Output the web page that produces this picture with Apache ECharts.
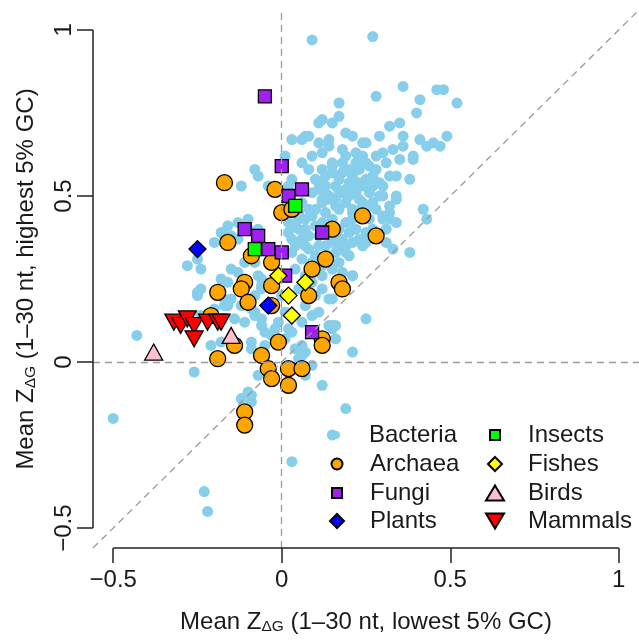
<!DOCTYPE html>
<html>
<head>
<meta charset="utf-8">
<script src="https://cdn.jsdelivr.net/npm/echarts@6/dist/echarts.min.js"></script>
<style>
html,body{margin:0;padding:0;background:#fff;}
#c{width:639px;height:640px;}
</style>
</head>
<body>
<div id="c"></div>
<script>
const xTicks = [-0.5, 0, 0.5, 1];
const yTicks = [-0.5, 0, 0.5, 1];
const axisRange = [-0.56, 1.06];

const bacteria = [
[0.09,0.97],[0.27,0.98],[0.36,0.83],[0.28,0.80],[0.46,0.82],[0.48,0.82],[0.41,0.79],[0.52,0.78],
[0.17,0.78],[0.40,0.75],[0.17,0.74],[0.12,0.73],[0.15,0.72],[0.11,0.72],[0.32,0.71],[0.35,0.72],
[0.19,0.69],[0.21,0.68],[0.29,0.68],[0.36,0.68],[0.49,0.68],[0.41,0.67],[0.43,0.65],[0.45,0.66],
[0.47,0.65],[0.11,0.66],[0.14,0.65],[0.24,0.66],[0.25,0.66],[0.36,0.65],[0.18,0.64],[0.22,0.63],
[0.24,0.62],[0.30,0.63],[0.25,0.60],[0.39,0.62],[0.39,0.61],[0.12,0.63],[0.15,0.60],[0.18,0.60],
[0.12,0.58],[0.15,0.57],[0.15,0.59],[0.18,0.57],[0.21,0.56],[0.23,0.54],[0.27,0.56],[0.32,0.56],
[0.34,0.56],[0.38,0.55],[0.29,0.54],[0.30,0.53],[0.11,0.54],[0.13,0.53],[0.16,0.53],[0.19,0.52],
[0.22,0.52],[0.24,0.53],[0.12,0.49],[0.14,0.49],[0.30,0.50],[0.34,0.49],[0.42,0.46],[0.43,0.43],
[0.21,0.46],[0.24,0.47],[0.27,0.47],[0.32,0.47],[0.30,0.44],[0.32,0.43],[0.34,0.42],[0.31,0.40],
[0.21,0.43],[0.22,0.40],[0.31,0.36],[0.33,0.34],[0.38,0.33],[0.20,0.39],[0.21,0.36],[0.24,0.35],
[0.17,0.35],[0.20,0.32],[0.21,0.26],[0.14,0.19],[0.25,0.13],[0.08,0.68],[0.03,0.67],[0.06,0.67],
[0.07,0.68],[0.01,0.62],[0.06,0.60],[0.08,0.58],[-0.08,0.58],[-0.07,0.56],[-0.12,0.53],[0.02,0.53],
[-0.04,0.53],[0.10,0.55],[0.03,0.55],[-0.16,0.41],[-0.13,0.42],[-0.10,0.43],[-0.10,0.40],[-0.07,0.40],
[-0.17,0.38],[-0.13,0.37],[-0.20,0.36],[-0.28,0.29],[-0.25,0.31],[-0.15,0.28],[-0.11,0.30],[-0.16,0.24],
[-0.24,0.22],[-0.25,0.20],[-0.07,0.26],[-0.06,0.23],[-0.15,0.19],[-0.09,0.16],[-0.20,0.16],[-0.24,0.14],
[0.02,0.39],[0.05,0.40],[0.03,0.37],[-0.18,0.39],[-0.15,0.38],[-0.24,0.28],[-0.18,0.25],[-0.13,0.27],
[-0.08,0.30],[-0.06,0.25],[-0.06,0.22],[-0.25,0.21],[-0.17,0.19],[-0.08,0.20],[-0.17,0.17],[-0.08,0.15],
[-0.14,0.13],[-0.06,0.13],[0.02,0.42],[0.04,0.41],[0.07,0.40],[0.04,0.35],[0.03,0.33],[0.06,0.31],
[0.04,0.28],[0.08,0.34],[0.09,0.51],[0.14,0.50],[0.18,0.51],[0.22,0.51],[0.29,0.50],[0.34,0.50],
[0.30,0.43],[0.32,0.45],[0.28,0.46],[0.21,0.45],[0.19,0.42],[0.21,0.40],[0.23,0.37],[0.25,0.36],
[0.19,0.35],[0.19,0.33],[0.07,0.43],[0.10,0.41],[0.08,0.38],[0.07,0.35],[0.11,0.35],[0.10,0.32],
[0.15,0.36],[0.14,0.32],[0.15,0.28],[0.12,0.26],[0.12,0.22],[0.15,0.19],[0.21,0.26],[0.06,0.12],
[0.09,0.14],[0.14,0.11],[0.06,0.48],[0.12,0.48],[0.16,0.47],[0.24,0.48],[0.27,0.48],[-0.43,0.08],
[-0.26,-0.03],[-0.50,-0.17],[-0.21,0.05],[-0.18,0.06],[-0.11,0.12],[-0.08,0.14],[-0.06,0.11],[-0.05,0.09],
[-0.03,0.08],[-0.09,0.06],[-0.09,0.04],[-0.05,0.05],[-0.02,0.08],[-0.02,0.10],[0.01,0.07],[0.03,0.09],
[0.04,0.04],[0.06,0.05],[-0.07,-0.04],[-0.10,-0.09],[-0.09,-0.10],[-0.09,-0.12],[-0.12,-0.11],[-0.16,0.17],
[-0.12,0.17],[0.15,0.11],[0.16,0.11],[0.15,0.10],[0.16,0.07],[0.21,0.03],[0.09,-0.01],[0.07,-0.04],
[0.07,0.03],[0.06,0.02],[0.05,0.01],[0.12,-0.07],[0.19,-0.14],[0.15,-0.22],[0.03,-0.30],[-0.23,-0.39],
[-0.22,-0.45],
[0.17,0.55],[0.20,0.54],[0.25,0.55],[0.13,0.51],[0.16,0.49],[0.19,0.48],[0.23,0.49],[0.26,0.51],
[0.10,0.46],[0.13,0.45],[0.15,0.43],[0.17,0.46],[0.23,0.44],[0.26,0.43],[0.27,0.40],[0.25,0.39],
[0.12,0.42],[0.14,0.39],[0.17,0.40],[0.18,0.37],[0.09,0.30],[0.12,0.29],[0.17,0.30],[0.18,0.27],
[0.07,0.26],[0.09,0.24],[0.05,0.22],[0.10,0.20],[0.07,0.17],[0.11,0.15],[0.01,0.15],[0.00,0.20],
[-0.01,0.12],[0.02,0.10],[0.11,0.52],[0.08,0.46],[0.05,0.43],[0.06,0.37],[0.26,0.59],[0.28,0.62],
[0.20,0.58],[0.22,0.60],[0.31,0.60],[0.33,0.64],[0.35,0.61],
[0.13,0.56],[0.17,0.51],[0.20,0.50],[0.09,0.44],[0.11,0.38],[0.16,0.38],[0.13,0.35],[0.16,0.33],
[0.05,0.45],[0.27,0.53],[0.23,0.58],[0.28,0.58],[0.19,0.62],[0.14,0.67],[0.09,0.62]
];

const archaea = [
[-0.17,0.54],[-0.02,0.52],[0.00,0.45],[0.03,0.46],[-0.16,0.36],[-0.09,0.32],[-0.03,0.30],[0.09,0.28],
[-0.11,0.24],[-0.12,0.22],[-0.03,0.23],[0.08,0.20],[-0.19,0.21],[-0.10,0.18],[-0.03,0.17],[-0.21,0.14],
[-0.14,0.05],[-0.19,0.01],[-0.06,0.02],[-0.01,0.06],[-0.04,-0.02],[0.02,-0.02],[0.06,-0.02],[-0.03,-0.05],
[0.02,-0.07],[-0.11,-0.15],[-0.11,-0.19],[0.24,0.44],[0.15,0.40],[0.28,0.38],[0.13,0.31],[0.17,0.24],
[0.18,0.22],[0.12,0.07],[0.12,0.05]
];
const fungi = [
[-0.05,0.80],[0.00,0.59],[0.02,0.50],[0.06,0.52],[-0.11,0.40],[-0.07,0.38],[-0.04,0.34],[0.00,0.33],
[0.01,0.26],[0.12,0.39],[0.09,0.09]
];
const plants = [[-0.25,0.34],[-0.04,0.17]];
const insects = [[0.04,0.47],[-0.08,0.34]];
const fishes = [[-0.01,0.26],[0.07,0.24],[0.02,0.20],[0.03,0.14]];
const birds = [[-0.38,0.03],[-0.15,0.08]];
const mammals = [[-0.32,0.12],[-0.30,0.11],[-0.28,0.13],[-0.26,0.11],[-0.26,0.07],[-0.22,0.12],[-0.19,0.12],[-0.18,0.12]];

const groupNames = ['Bacteria','Archaea','Fungi','Plants','Insects','Fishes','Birds','Mammals'];

const FONT = 'Liberation Sans, Arial, sans-serif';
const TXT = '#1a1a1a';
const AX = '#222';
const minus = v => String(v).replace('-', '\u2212');

const chart = echarts.init(document.getElementById('c'), null, {renderer: 'canvas'});

function sc(name, data, symbol, size, color, extra) {
  return Object.assign({
    name, type: 'scatter', data, symbol, symbolSize: size,
    itemStyle: {color, borderColor: '#000', borderWidth: 1.3, opacity: 1},
    emphasis: {disabled: true}, silent: true
  }, extra || {});
}

const richName = {
  a: {fontSize: 24, fontFamily: FONT, color: TXT, lineHeight: 26},
  s: {fontSize: 15.5, fontFamily: FONT, color: TXT, lineHeight: 14, verticalAlign: 'bottom'}
};

// legend layout: [icon centre x, row centre y, icon w, icon h, text left x, icon]
const legendLayout = [
  [336, 435, 8, 8, 369, null],
  [336, 464, 11, 11, 369, null],
  [336, 493, 10, 10, 369, null],
  [336, 521, 14, 14, 369, null],
  [494, 435, 10, 10, 527, null],
  [494, 464, 14, 14, 527, null],
  [494, 493, 18, 15, 527, null],
  [494, 521, 18, 15, 527, 'path://M0,0L18,0L9,15Z']
];
const legends = groupNames.map((nm, i) => {
  const [cx, cy, w, h, tx, icon] = legendLayout[i];
  const left = cx - w / 2;
  const item = {name: nm};
  if (icon) item.icon = icon;
  return {
    data: [item], orient: 'vertical', left, top: cy - 13, padding: 0,
    itemWidth: w, itemHeight: h, selectedMode: false,
    textStyle: {fontSize: 24, fontFamily: FONT, color: TXT, lineHeight: 26, padding: [0,0,0, tx - (left + w + 5)]}
  };
});

const option = {
  animation: false,
  backgroundColor: '#fff',
  grid: {left: 93, right: -2, top: 10, bottom: 90, containLabel: false},
  xAxis: {
    type: 'value', min: axisRange[0], max: axisRange[1],
    splitLine: {show: false}, axisLine: {show: false, onZero: false},
    axisTick: {show: true, inside: false, customValues: xTicks, length: 15, lineStyle: {color: AX, width: 1.5}},
    axisLabel: {customValues: xTicks, formatter: minus, fontSize: 24, fontFamily: FONT, color: TXT, margin: 20},
    name: '{a|Mean Z}{s|\u0394G}{a| (1\u201330 nt, lowest 5% GC)}',
    nameLocation: 'middle', nameGap: 61,
    nameTextStyle: {rich: richName}
  },
  yAxis: {
    type: 'value', min: axisRange[0], max: axisRange[1],
    splitLine: {show: false}, axisLine: {show: false, onZero: false},
    axisTick: {show: true, inside: false, customValues: yTicks, length: 16, lineStyle: {color: AX, width: 1.5}},
    axisLabel: {customValues: yTicks, formatter: minus, rotate: 90, fontSize: 24, fontFamily: FONT, color: TXT, margin: 17},
    name: '{a|Mean Z}{s|\u0394G}{a| (1\u201330 nt, highest 5% GC)}',
    nameLocation: 'middle', nameGap: 54,
    nameTextStyle: {rich: richName}
  },
  legend: legends,
  series: [
    sc(groupNames[0], bacteria, 'circle', 11, '#87CEEB', {itemStyle: {color: '#87CEEB', borderWidth: 0, opacity: 1}}),
    sc(groupNames[1], archaea, 'circle', 16, '#FFA500'),
    sc(groupNames[2], fungi, 'rect', 13, '#A020F0'),
    sc(groupNames[3], plants, 'diamond', 17, '#0000FF'),
    sc(groupNames[4], insects, 'rect', 13, '#00FF00'),
    sc(groupNames[5], fishes, 'diamond', 17, '#FFFF00'),
    sc(groupNames[6], birds, 'triangle', [18, 16], '#FFC0CB'),
    sc(groupNames[7], mammals, 'triangle', [18, 16], '#FF0000', {symbolRotate: 180}),
    {
      type: 'scatter', data: [], silent: true, z: 10, clip: false,
      markLine: {
        silent: true, symbol: ['none', 'none'], animation: false,
        label: {show: false},
        lineStyle: {color: '#9a9a9a', width: 1.3, type: [7, 5]},
        data: [
          {xAxis: 0},
          {yAxis: 0},
          [{coord: [axisRange[0], axisRange[0]]}, {coord: [axisRange[1], axisRange[1]]}],
          [{coord: [xTicks[0], axisRange[0]], lineStyle: {color: AX, width: 1.5, type: 'solid'}},
           {coord: [xTicks[xTicks.length - 1], axisRange[0]]}],
          [{coord: [axisRange[0], yTicks[0]], lineStyle: {color: AX, width: 1.5, type: 'solid'}},
           {coord: [axisRange[0], yTicks[yTicks.length - 1]]}]
        ]
      }
    }
  ]
};
chart.setOption(option);
</script>
</body>
</html>
